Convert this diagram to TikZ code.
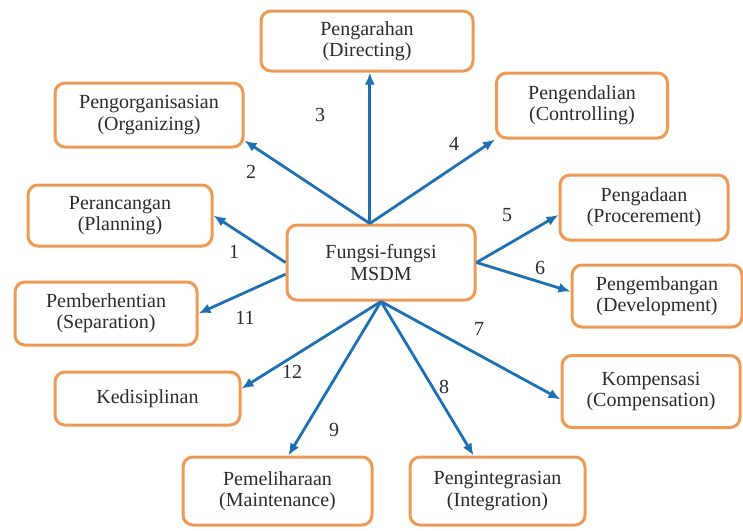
\documentclass[tikz,border=0pt]{standalone}
\usepackage{fontspec}
\setmainfont{Liberation Serif}
\usepackage{tikz}
\usetikzlibrary{calc, arrows.meta, positioning}
\definecolor{hrorange}{HTML}{EE9A55}
\definecolor{hrblue}{HTML}{1F6FB4}
\definecolor{hrtext}{HTML}{2B2B2B}

\begin{document}
\begin{tikzpicture}[x=0.5pt, y=-0.5pt,
    fungsi/.style={draw=hrorange, line width=1.5pt, rounded corners=5pt, fill=white,
                   align=center, text=hrtext, inner sep=0pt,
                   font=\fontsize{10}{10.6}\selectfont},
    nomor/.style={text=hrtext, font=\fontsize{10}{10.6}\selectfont, inner sep=0pt},
    panah/.style={-{Latex[length=6pt, width=5pt]}, draw=hrblue, line width=1.4pt}]
                        \useasboundingbox (0,0) rectangle (743,530);

                        % Center box
                        \node[fungsi, minimum width=94pt, minimum height=37.5pt] (msdm) at (381,262.5) {Fungsi-fungsi\\MSDM};

                        % Functions around it
                        \node[fungsi, minimum width=106pt, minimum height=30pt] (directing) at (367,41) {Pengarahan\\(Directing)};
                        \node[fungsi, minimum width=94pt, minimum height=32pt] (organizing) at (149,115) {Pengorganisasian\\(Organizing)};
                        \node[fungsi, minimum width=85.5pt, minimum height=32.5pt] (controlling) at (582,105.5) {Pengendalian\\(Controlling)};
                        \node[fungsi, minimum width=92pt, minimum height=30.5pt] (planning) at (120,215.5) {Perancangan\\(Planning)};
                        \node[fungsi, minimum width=84pt, minimum height=32.5pt] (procurement) at (644,207.5) {Pengadaan\\(Procerement)};
                        \node[fungsi, minimum width=85pt, minimum height=31pt] (development) at (657,296) {Pengembangan\\(Development)};
                        \node[fungsi, minimum width=91pt, minimum height=31.5pt] (separation) at (106,313.5) {Pemberhentian\\(Separation)};
                        \node[fungsi, minimum width=92.5pt, minimum height=26.5pt] (discipline) at (147.5,398.5) {Kedisiplinan};
                        \node[fungsi, minimum width=89pt, minimum height=36pt] (compensation) at (651,391.5) {Kompensasi\\(Compensation)};
                        \node[fungsi, minimum width=94.5pt, minimum height=34pt] (maintenance) at (277.5,491) {Pemeliharaan\\(Maintenance)};
                        \node[fungsi, minimum width=87.5pt, minimum height=34pt] (integration) at (497.5,491) {Pengintegrasian\\(Integration)};

                        % Arrows out of the center
                        \draw[panah] (msdm.west) -- (planning.east);
                        \draw[panah] (msdm.106) -- (organizing.-15);
                        \draw[panah] (msdm.106) -- (msdm.106 |- directing.south);
                        \draw[panah] (msdm.106) -- (controlling.south west);
                        \draw[panah] (msdm.east) -- (procurement.185);
                        \draw[panah] (msdm.east) -- (development.177);
                        \draw[panah] (msdm.south) -- (compensation.185);
                        \draw[panah] (msdm.south) -- (integration.124);
                        \draw[panah] (msdm.south) -- (maintenance.73);
                        \draw[panah] (msdm.187) -- (separation.east);
                        \draw[panah] (msdm.south) -- (discipline.6);

                        % Numbers
                        \node[nomor] (n1) at (234,252) {1};
                        \node[nomor] (n2) at (251,172) {2};
                        \node[nomor] (n3) at (320,115) {3};
                        \node[nomor] (n4) at (454,144) {4};
                        \node[nomor] (n5) at (507,215) {5};
                        \node[nomor] (n6) at (540,268) {6};
                        \node[nomor] (n7) at (479,329) {7};
                        \node[nomor] (n8) at (444,387) {8};
                        \node[nomor] (n9) at (334,430) {9};
                        \node[nomor] (n11) at (245,318) {11};
                        \node[nomor] (n12) at (292,372) {12};
                    \end{tikzpicture}
\end{document}
